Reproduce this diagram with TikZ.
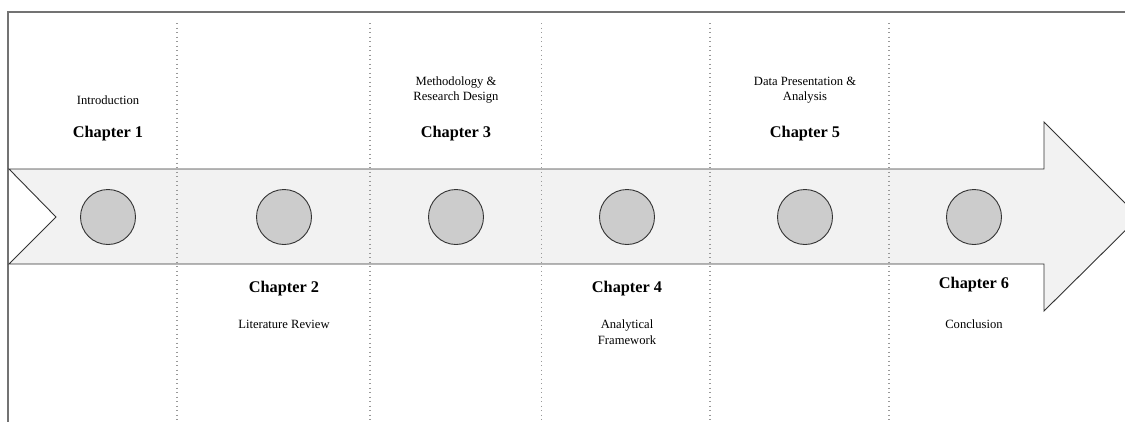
\documentclass[tikz,border=0pt]{standalone}
\usepackage{fontspec}
\setmainfont{Liberation Serif}
\begin{document}
\begin{tikzpicture}[x=1pt,y=-1pt,
  frameline/.style={draw=black!55,line width=1.4pt},
  sepline/.style={draw=black!40,line width=1.4pt,dash pattern=on 1.2pt off 3.3pt},
  band/.style={draw=black!80,line width=0.9pt,fill=black!5,line join=miter},
  dot/.style={circle,draw=black!80,line width=0.9pt,fill=black!20,minimum size=55pt,inner sep=0pt},
  chap/.style={font=\fontsize{16.3}{19}\selectfont\bfseries,anchor=base,inner sep=0pt},
  desc/.style={font=\fontsize{12.6}{15.5}\selectfont,anchor=base,inner sep=0pt,align=center}]
\useasboundingbox (0,0) rectangle (1125,421);
\clip (0,0) rectangle (1125,421);
% frame (partly cut off)
\draw[frameline] (8,425) -- (8,12) -- (1130,12);
% arrow band
\draw[band] (9,169) -- (1044,169) -- (1044,122) -- (1139,217) -- (1044,311) -- (1044,264) -- (9,264) -- (56,217) -- cycle;
% separators
\foreach \x/\n in {177/a,370/b,541.5/c,710/d,889/e}{
  \coordinate (s\n t) at (\x,23);
  \coordinate (s\n b) at (\x,425);
  \draw[sepline] (s\n t) -- (s\n b);
}
% milestones
\node[dot] (c1) at (108,217) {};
\node[dot] (c2) at (284,217) {};
\node[dot] (c3) at (456,217) {};
\node[dot] (c4) at (627,217) {};
\node[dot] (c5) at (805,217) {};
\node[dot] (c6) at (974,217) {};
% labels
\node[desc] (d1) at (108,104) {Introduction};
\node[chap] (h1) at (108,137) {Chapter 1};
\node[chap] (h2) at (284,292) {Chapter 2};
\node[desc] (d2) at (284,328) {Literature Review};
\node[desc] (d3) at (456,100.5) {Methodology \&\\Research Design};
\node[chap] (h3) at (456,137) {Chapter 3};
\node[chap] (h4) at (627,292) {Chapter 4};
\node[desc] (d4) at (627,344) {Analytical\\Framework};
\node[desc] (d5) at (805,100.5) {Data Presentation \&\\Analysis};
\node[chap] (h5) at (805,137) {Chapter 5};
\node[chap] (h6) at (974,288) {Chapter 6};
\node[desc] (d6) at (974,328) {Conclusion};
\end{tikzpicture}
\end{document}
